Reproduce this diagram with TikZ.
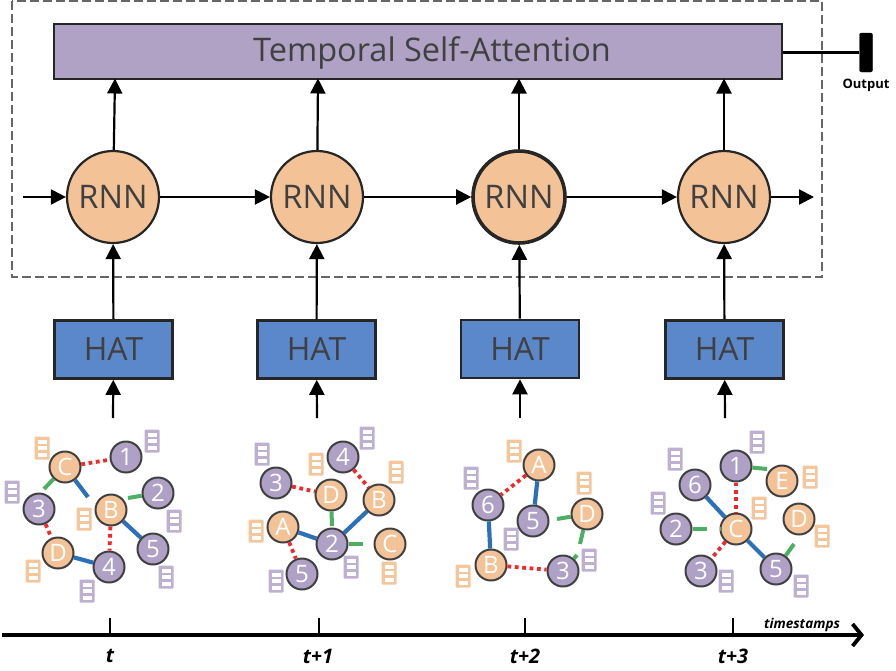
\documentclass[tikz,border=0pt]{standalone}
\usepackage{fontspec}
\setmainfont{Open Sans}
\usetikzlibrary{arrows.meta}

\definecolor{attnpurple}{HTML}{B0A2C4}
\definecolor{rnnorange}{HTML}{F3C397}
\definecolor{hatblue}{HTML}{5B87CB}
\definecolor{nodepurple}{HTML}{AFA1C5}
\definecolor{featpurple}{HTML}{BDB0D0}
\definecolor{featorange}{HTML}{F3C69C}
\definecolor{edgered}{HTML}{EE2A2A}
\definecolor{edgegreen}{HTML}{4CAF62}
\definecolor{edgeblue}{HTML}{2B70B8}
\definecolor{inktext}{HTML}{404040}

\tikzset{
  flow/.style={line width=2.2pt, -{Triangle[length=15pt,width=15pt]}},
  attnbox/.style={draw=black!85, line width=2.6pt, fill=attnpurple, minimum width=728pt, minimum height=55pt, inner sep=0pt},
  rnnnode/.style={circle, draw=black!85, line width=2.2pt, fill=rnnorange, minimum size=92pt, inner sep=0pt, font=\fontsize{32.5}{32}\selectfont, text=inktext},
  hatbox/.style={draw=black!85, line width=2.6pt, fill=hatblue, minimum width=118pt, minimum height=58pt, inner sep=0pt, font=\fontsize{32}{32}\selectfont, text=inktext},
  vnum/.style={circle, draw=inktext, line width=2pt, fill=nodepurple, minimum size=31pt, inner sep=0pt, text=white, font=\fontsize{24}{24}\selectfont},
  vlet/.style={vnum, fill=rnnorange},
  redge/.style={draw=edgered, line width=3.8pt, dash pattern=on 3.8pt off 3.6pt},
  gedge/.style={draw=edgegreen, line width=4pt},
  bedge/.style={draw=edgeblue, line width=4.2pt},
  ticklabel/.style={font=\fontsize{20}{20}\selectfont\bfseries\itshape}
}

% feature stack: colour, x, y
\newcommand{\featbox}[3]{
  \fill[#1, rounded corners=1pt] (#2-7.5,#3-11.5) rectangle (#2+7.5,#3+11.5);
  \fill[white] (#2-4.5,#3-8.5) rectangle (#2+4.5,#3-4.5);
  \fill[white] (#2-4.5,#3-2) rectangle (#2+4.5,#3+2);
  \fill[white] (#2-4.5,#3+4.5) rectangle (#2+4.5,#3+8.5);
}

\begin{document}
\begin{tikzpicture}[x=1pt, y=-1pt]
  \useasboundingbox (0,0) rectangle (896,670);

  % top part
  \draw[draw=black!60, line width=2.2pt, dash pattern=on 9pt off 4pt] (12,1) rectangle (822,277);
  \node[attnbox] (attn) at (418,51.5) {};
  \node[text=inktext, font=\fontsize{32.5}{32}\selectfont] (attntext) at (432,53) {Temporal Self-Attention};
  \node[rnnnode] (rnn0) at (113,197) {RNN};
  \node[rnnnode] (rnn1) at (317,197) {RNN};
  \node[rnnnode, line width=3.6pt] (rnn2) at (519,197) {RNN};
  \node[rnnnode] (rnn3) at (724,197) {RNN};
  \node[hatbox] (hat0) at (113.5,349.5) {HAT};
  \node[hatbox] (hat1) at (316.5,349.5) {HAT};
  \node[hatbox] (hat2) at (520,349) {HAT};
  \node[hatbox] (hat3) at (724.5,349.5) {HAT};

  \coordinate (in0) at (23,197);
  \coordinate (out0) at (814,197);
  \draw[flow] (in0) -- (rnn0);
  \draw[flow] (rnn0) -- (rnn1);
  \draw[flow] (rnn1) -- (rnn2);
  \draw[flow] (rnn2) -- (rnn3);
  \draw[flow] (rnn3) -- (out0);

  \coordinate (up0) at (115,78.5);
  \coordinate (up1) at (318,78.5);
  \coordinate (up2) at (519,78.5);
  \coordinate (up3) at (724,78.5);
  \draw[flow] (rnn0) -- (up0);
  \draw[flow] (rnn1) -- (up1);
  \draw[flow] (rnn2) -- (up2);
  \draw[flow] (rnn3) -- (up3);

  \draw[flow] (hat0) -- (rnn0);
  \draw[flow] (hat1) -- (rnn1);
  \draw[flow] (hat2) -- (rnn2);
  \draw[flow] (hat3) -- (rnn3);

  \coordinate (g0) at (113,418);
  \coordinate (g1) at (317,418);
  \coordinate (g2) at (520,418);
  \coordinate (g3) at (725,418);
  \draw[flow] (g0) -- (hat0);
  \draw[flow] (g1) -- (hat1);
  \draw[flow] (g2) -- (hat2);
  \draw[flow] (g3) -- (hat3);

  % output
  \node[draw=black, fill=black, rounded corners=2pt, minimum width=13pt, minimum height=39pt, inner sep=0pt] (outbar) at (866,52.5) {};
  \node[font=\fontsize{13}{13}\selectfont\bfseries] (outtext) at (866,85) {Output};
  \draw[line width=2.2pt] (attn.east |- outbar) -- (outbar);

  % graph at t
  \featbox{featorange}{42}{448}
  \featbox{featpurple}{152}{441}
  \featbox{featpurple}{12}{492}
  \featbox{featorange}{84}{519}
  \featbox{featpurple}{174}{521}
  \featbox{featorange}{33}{571}
  \featbox{featpurple}{87}{591}
  \featbox{featpurple}{166}{577}
  \node[vlet] (aC) at (65,467) {C};
  \node[vnum] (a1) at (126,457) {1};
  \node[vnum] (a2) at (158,493) {2};
  \node[vlet] (aB) at (111,510) {B};
  \node[vnum] (a3) at (39,509) {3};
  \node[vlet] (aD) at (58,553) {D};
  \node[vnum] (a4) at (109,567) {4};
  \node[vnum] (a5) at (153,549) {5};
  \coordinate (ae1) at (44,489);
  \coordinate (ae2) at (88,497);
  \coordinate (ae3) at (128,498);
  \draw[redge] (aC) -- (a1);
  \draw[gedge] (aC) -- (ae1);
  \draw[bedge] (aC) -- (ae2);
  \draw[gedge] (ae3) -- (a2);
  \draw[bedge] (aB) -- (a5);
  \draw[redge] (aB) -- (a4);
  \draw[redge] (a3) -- (aD);
  \draw[bedge] (aD) -- (a4);

  % graph at t+1
  \featbox{featpurple}{262}{454}
  \featbox{featpurple}{367}{438}
  \featbox{featorange}{316}{464}
  \featbox{featorange}{396}{472}
  \featbox{featorange}{256}{531}
  \featbox{featpurple}{351}{567}
  \featbox{featorange}{389}{573}
  \featbox{featpurple}{276}{581}
  \node[vnum] (b3) at (276,483) {3};
  \node[vnum] (b4) at (343,457) {4};
  \node[vlet] (bD) at (331,495) {D};
  \node[vlet] (bB) at (379,500) {B};
  \node[vlet] (bA) at (283,527) {A};
  \node[vnum] (b2) at (332,544) {2};
  \node[vlet] (bC) at (390,544) {C};
  \node[vnum] (b5) at (302,574) {5};
  \coordinate (be1) at (332,526);
  \coordinate (be2) at (344,533);
  \coordinate (be3) at (363,544);
  \draw[redge] (b3) -- (bD);
  \draw[redge] (b4) -- (bB);
  \draw[gedge] (bD) -- (be1);
  \draw[bedge] (bB) -- (be2);
  \draw[bedge] (bA) -- (b2);
  \draw[gedge] (b2) -- (be3);
  \draw[redge] (bA) -- (b5);

  % graph at t+2
  \featbox{featorange}{514}{451}
  \featbox{featpurple}{471}{478}
  \featbox{featorange}{584}{483}
  \featbox{featpurple}{511}{539}
  \featbox{featpurple}{589}{560}
  \featbox{featorange}{463}{576}
  \node[vlet] (cA) at (539,465) {A};
  \node[vnum] (c6) at (488,505) {6};
  \node[vnum] (c5) at (533,521) {5};
  \node[vlet] (cD) at (587,514) {D};
  \node[vlet] (cB) at (491,565) {B};
  \node[vnum] (c3) at (563,571) {3};
  \coordinate (ce1) at (557,519);
  \coordinate (ce2) at (580,544);
  \coordinate (ce3) at (577,555);
  \draw[redge] (cA) -- (c6);
  \draw[bedge] (cA) -- (c5);
  \draw[bedge] (c6) -- (cB);
  \draw[gedge] (ce1) -- (cD);
  \draw[gedge] (cD) -- (ce2);
  \draw[gedge] (c3) -- (ce3);
  \draw[redge] (cB) -- (c3);

  % graph at t+3
  \featbox{featpurple}{757}{442}
  \featbox{featpurple}{675}{459}
  \featbox{featorange}{810}{477}
  \featbox{featorange}{759}{508}
  \featbox{featpurple}{658}{503}
  \featbox{featorange}{822}{536}
  \featbox{featpurple}{726}{581}
  \featbox{featpurple}{801}{586}
  \node[vnum] (d1) at (736,466) {1};
  \node[vlet] (dE) at (782,481) {E};
  \node[vnum] (d6) at (695,485) {6};
  \node[vlet] (dC) at (736,529) {C};
  \node[vlet] (dD) at (799,519) {D};
  \node[vnum] (d2) at (676,529) {2};
  \node[vnum] (d3) at (701,571) {3};
  \node[vnum] (d5) at (776,569) {5};
  \coordinate (de1) at (767,469);
  \coordinate (de2) at (707,529);
  \coordinate (de3) at (720,529);
  \coordinate (de4) at (794,544);
  \draw[gedge] (d1) -- (de1);
  \draw[redge] (d1) -- (dC);
  \draw[bedge] (d6) -- (dC);
  \draw[bedge] (dC) -- (d5);
  \draw[gedge] (d2) -- (de2);
  \draw[gedge] (de3) -- (dC);
  \draw[redge] (dC) -- (d3);
  \draw[gedge] (d5) -- (de4);

  % time axis
  \coordinate (axstart) at (2,635);
  \coordinate (axend) at (864,635);
  \draw[line width=3.8pt, -{Straight Barb[length=9pt,width=22pt,line width=3.8pt]}] (axstart) -- (axend);
  \coordinate (tick0) at (110,618);
  \coordinate (tick1) at (319,618);
  \coordinate (tick2) at (525,618);
  \coordinate (tick3) at (733,618);
  \draw[line width=1.8pt] (tick0) -- (tick0 |- axstart);
  \draw[line width=1.8pt] (tick1) -- (tick1 |- axstart);
  \draw[line width=1.8pt] (tick2) -- (tick2 |- axstart);
  \draw[line width=1.8pt] (tick3) -- (tick3 |- axstart);
  \node[ticklabel] (lab0) at (110,656) {t};
  \node[ticklabel] (lab1) at (318,656) {t+1};
  \node[ticklabel] (lab2) at (525,656) {t+2};
  \node[ticklabel] (lab3) at (733,656) {t+3};
  \node[font=\fontsize{13.5}{14}\selectfont\bfseries\itshape] (stamps) at (802,625) {timestamps};
\end{tikzpicture}
\end{document}
